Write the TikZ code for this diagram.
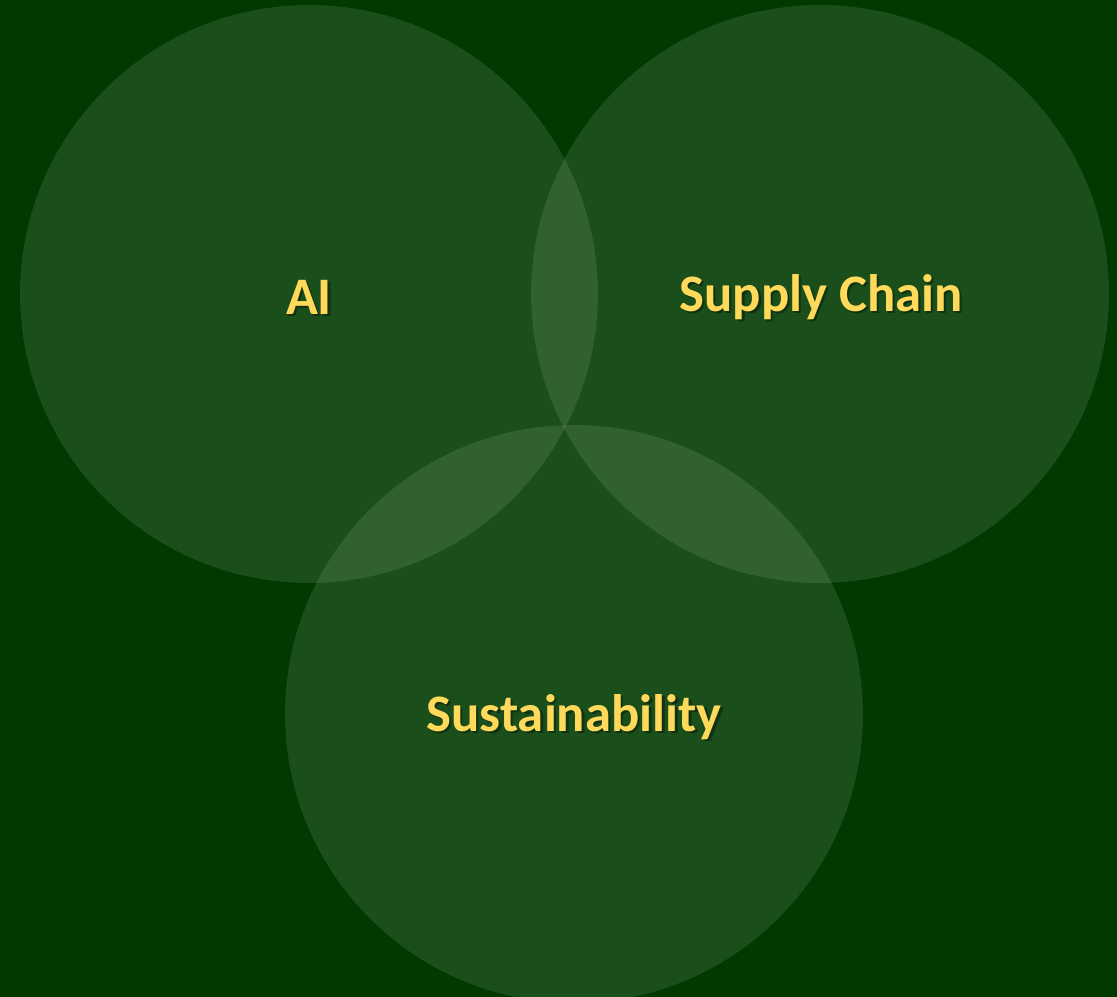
\documentclass[tikz,border=0pt]{standalone}
\usepackage{fontspec}
\setmainfont{Carlito}
\usepackage[dvipsnames]{xcolor}
\definecolor{bggreen}{RGB}{0,58,0}
\definecolor{labelgold}{RGB}{255,217,90}

\begin{document}
\begin{tikzpicture}[x=0.02cm,y=-0.02cm,set node/.style={circle,minimum size=11.56cm,inner sep=0pt,fill=white,fill opacity=0.1},label node/.style={text=labelgold,font=\fontsize{30}{36}\selectfont\bfseries},shadow node/.style={text=black,text opacity=0.35,font=\fontsize{30}{36}\selectfont\bfseries}]
                \fill[bggreen] (0,0) rectangle (1117,997);
                \useasboundingbox (0,0) rectangle (1117,997);

                \node[set node] (ai) at (309,294) {};
                \node[set node] (supply) at (820,294) {};
                \node[set node] (sustain) at (574,714) {};

                \node[shadow node] at ([shift={(2.5,5.5)}]ai.center) {AI};
                \node[shadow node] at ([shift={(3.5,5.5)}]supply.center) {Supply Chain};
                \node[shadow node] at ([shift={(2.5,5.5)}]sustain.center) {Sustainability};
                \node[label node] (ailabel) at ([shift={(0,3)}]ai.center) {AI};
                \node[label node] (supplylabel) at ([shift={(1,3)}]supply.center) {Supply Chain};
                \node[label node] (sustainlabel) at ([shift={(0,3)}]sustain.center) {Sustainability};

            \end{tikzpicture}
\end{document}
